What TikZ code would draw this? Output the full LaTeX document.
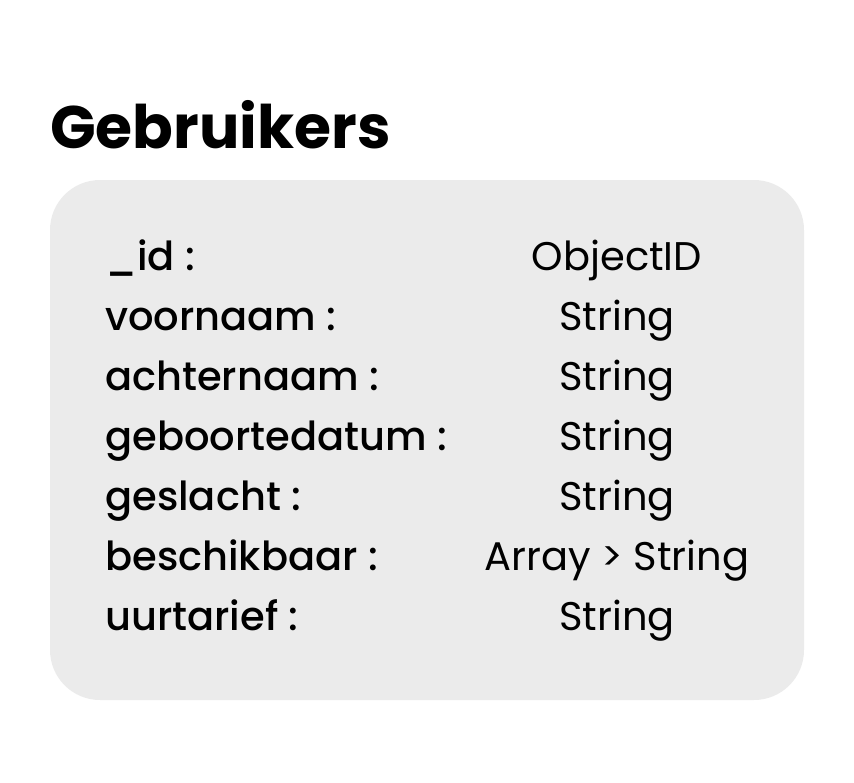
\documentclass[tikz,border=0pt]{standalone}
\usepackage{fontspec}
\setmainfont{Poppins}
\newfontfamily\titlefont{Poppins Bold}
\newfontfamily\keyfont{Poppins Medium}
\definecolor{boxgray}{RGB}{235,235,235}
\begin{document}
\begin{tikzpicture}[x=1pt,y=-1pt]
            \useasboundingbox (0,0) rectangle (854,782);
            \def\top{270}
            \def\gap{60}
            \node[anchor=base west,inner sep=0pt] (title) at (50,148) {\titlefont\fontsize{60}{60}\selectfont Gebruikers};
            \fill[boxgray,rounded corners=50pt] (50,180) rectangle (804,700);
            \foreach \i/\k/\v in {0/\_id/ObjectID,1/voornaam/String,2/achternaam/String,3/geboortedatum/String,4/geslacht/String,5/beschikbaar/Array > String,6/uurtarief/String}{
                \node[anchor=base west,inner sep=0pt] (key\i) at (105,\top+\i*\gap) {\keyfont\fontsize{40}{40}\selectfont \k\ :};
                \node[anchor=base,inner sep=0pt] (val\i) at (617,\top+\i*\gap) {\fontsize{40}{40}\selectfont \v};
            }
        \end{tikzpicture}
\end{document}
